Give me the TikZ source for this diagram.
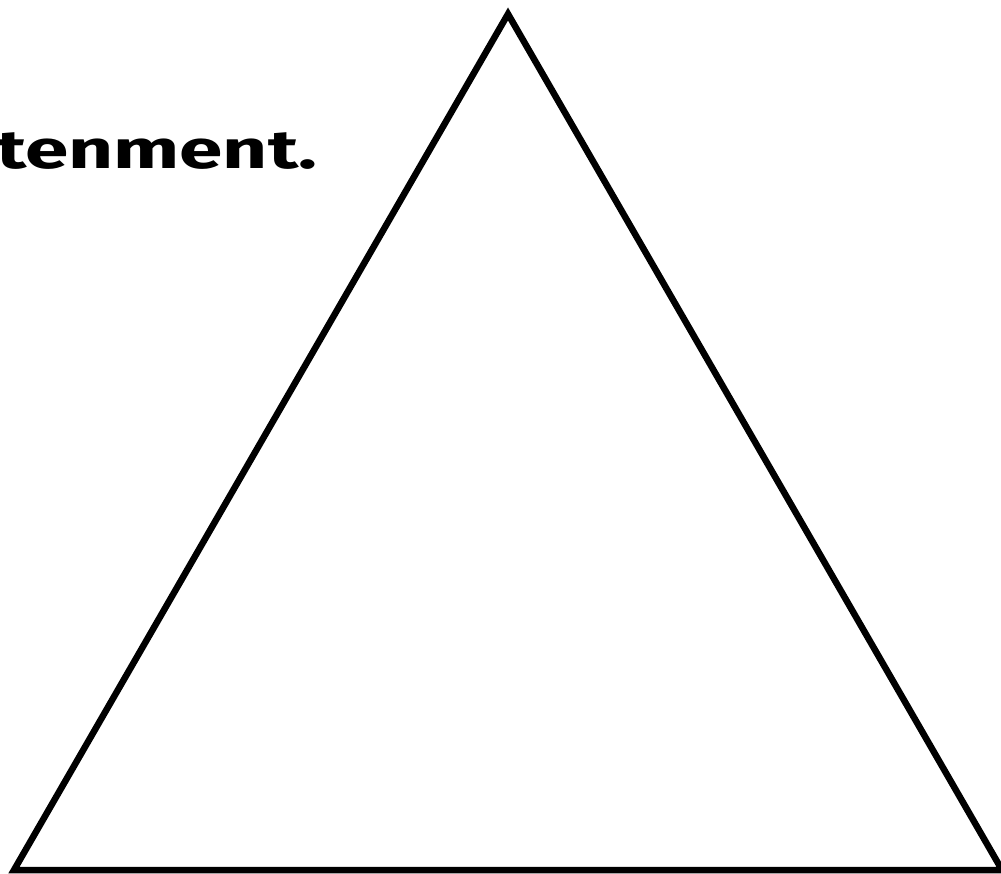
\documentclass[tikz,border=0pt]{standalone}
\usepackage{fontspec}
\setmainfont{Fira Sans}
\begin{document}
\begin{tikzpicture}[x=1pt,y=-1pt,
  tri/.style={draw=black,line width=6.5pt,line join=miter},
  lbl/.style={inner sep=0pt,xscale=1.45,font=\fontsize{54}{62}\selectfont\bfseries}]
\useasboundingbox (0,0) rectangle (1001,874);
\coordinate (apex) at (508,14);
\coordinate (bl) at (14,870);
\coordinate (br) at (1002,870);
\draw[tri] (apex) -- (br) -- (bl) -- cycle;
\node[lbl,anchor=base east] (word) at (318,169) {tenment.};
\end{tikzpicture}
\end{document}
